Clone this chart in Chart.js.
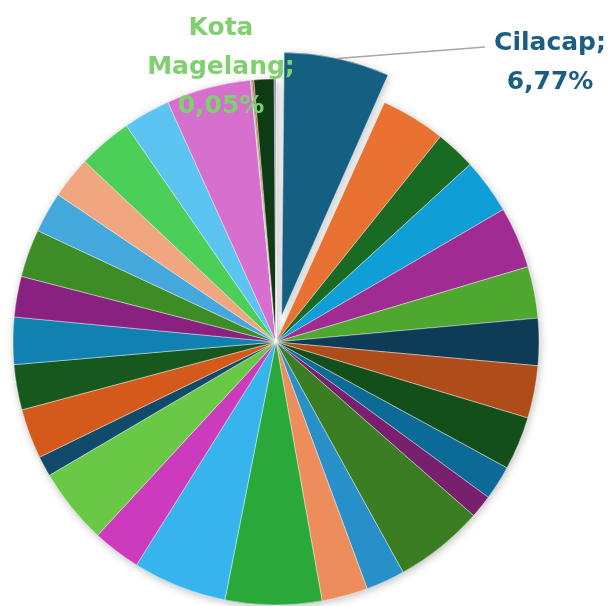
<!DOCTYPE html>
<html>
<head>
<meta charset="utf-8">
<script src="https://cdn.jsdelivr.net/npm/chart.js@4.4.1/dist/chart.umd.min.js"></script>
<style>
  html, body { margin: 0; padding: 0; background: #fff; }
  #wrap { width: 614px; height: 606px; }
</style>
</head>
<body>
<div id="wrap"><canvas id="pieCanvas" width="614" height="606"></canvas></div>
<script>
const regions = [
  "Cilacap", "Banyumas", "Purbalingga", "Banjarnegara", "Kebumen", "Purworejo",
  "Wonosobo", "Magelang", "Boyolali", "Klaten", "Sukoharjo", "Wonogiri",
  "Karanganyar", "Sragen", "Grobogan", "Blora", "Rembang", "Pati",
  "Kudus", "Jepara", "Demak", "Semarang", "Temanggung", "Kendal",
  "Batang", "Pekalongan", "Pemalang", "Tegal", "Brebes", "Kota Magelang",
  "Kota Surakarta", "Kota Salatiga", "Kota Semarang", "Kota Pekalongan", "Kota Tegal"
];
const shares = [
  6.77, 3.97, 2.47, 3.39, 3.78, 3.17,
  2.89, 3.22, 3.28, 2.11, 1.42, 5.50,
  2.39, 2.83, 5.92, 5.78, 2.97, 4.67,
  1.25, 3.06, 2.78, 2.89, 2.50, 2.94,
  2.50, 2.58, 3.33, 2.89, 5.19, 0.05,
  0.05, 0.11, 1.23, 0.06, 0.05
];
const sliceColors = [
  "#156082", "#e97132", "#196b24", "#0f9ed5", "#a02b93", "#4ea72e",
  "#0e3b56", "#ae4d1a", "#134f1b", "#0b6a96", "#78206e", "#3b7d22",
  "#2790c8", "#ed8d5b", "#2aa83a", "#36b5ec", "#cc3bbd", "#6ac847",
  "#104b6b", "#d45a1b", "#16581d", "#1181b1", "#892180", "#3e8c25",
  "#45a8dc", "#f0a67f", "#4bcf58", "#5bc4f0", "#d66fce", "#7fd06f",
  "#0a3a55", "#b6551d", "#0f3b14", "#0a5d80", "#7a1c6f"
];
// slices that carry a data label, and the label colour for each
const labelled = [0, 29];
const labelColors = ["#1b5e84", "#7fd06f"];

const explodeOffset = 108; // Chart.js moves the slice by offset / 4

const pieExtras = {
  id: "pieExtras",
  afterDatasetUpdate(chart) {
    // Excel keeps the pulled-out slice at the same radius as the others
    const arc = chart.getDatasetMeta(0).data[0];
    const push = explodeOffset / 4;
    const fix = 1 - Math.sin(Math.min(Math.PI, arc.circumference));
    arc.outerRadius -= push * fix;
  },
  beforeDatasetsDraw(chart) {
    const ctx = chart.ctx;
    ctx.save();
    ctx.shadowColor = "rgba(0, 0, 0, 0.25)";
    ctx.shadowBlur = 9;
    ctx.shadowOffsetX = 1;
    ctx.shadowOffsetY = 2;
    chart.getDatasetMeta(0).data.forEach((a) => a.draw(ctx));
    ctx.restore();
  },
  afterDatasetsDraw(chart) {
    const ctx = chart.ctx;
    const arcs = chart.getDatasetMeta(0).data;
    const total = shares.reduce((s, v) => s + v, 0);
    const cx = arcs[0].x;
    const cy = arcs[0].y;

    // label placement relative to the pie centre
    const spots = [
      { dx: 274, dy: -292, line: [209, -295] },
      { dx: -55, dy: -307 },
    ];

    ctx.save();
    ctx.font = "bold 25px 'DejaVu Sans'";
    ctx.textAlign = "center";
    ctx.textBaseline = "alphabetic";

    labelled.forEach((idx, n) => {
      const arc = arcs[idx];
      const spot = spots[n];

      if (spot.line) {
        const mid = (arc.startAngle + arc.endAngle) / 2;
        const push = (arc.options.offset || 0) / 4;
        const fix = 1 - Math.sin(Math.min(Math.PI, arc.circumference));
        const r = push + arc.outerRadius + push * fix;
        ctx.beginPath();
        ctx.moveTo(cx + Math.cos(mid) * r, cy + Math.sin(mid) * r);
        ctx.lineTo(cx + spot.line[0], cy + spot.line[1]);
        ctx.strokeStyle = "#a6a6a6";
        ctx.lineWidth = 1.5;
        ctx.stroke();
      }

      const pct = ((shares[idx] / total) * 100).toFixed(2).replace(".", ",") + "%";
      const words = regions[idx].split(" ");
      words[words.length - 1] += ";";
      const lines = words.concat([pct]);

      ctx.fillStyle = labelColors[n];
      lines.forEach((t, k) => {
        ctx.fillText(t, cx + spot.dx, cy + spot.dy + k * 39);
      });
    });
    ctx.restore();
  },
};

const ctx = document.getElementById("pieCanvas").getContext("2d");

new Chart(ctx, {
  type: "pie",
  data: {
    labels: regions,
    datasets: [
      {
        data: shares,
        backgroundColor: sliceColors,
        borderColor: "rgba(255, 255, 255, 0.7)",
        borderWidth: 0.6,
        offset: shares.map((v, i) => (i === 0 ? explodeOffset : 0)),
        clip: false,
      },
    ],
  },
  options: {
    responsive: false,
    animation: false,
    devicePixelRatio: 1,
    radius: 263,
    events: [],
    layout: {
      padding: { left: 0, right: 62, top: 78, bottom: 0 },
    },
    plugins: {
      legend: { display: false },
      tooltip: { enabled: false },
    },
  },
  plugins: [pieExtras],
});
</script>
</body>
</html>
